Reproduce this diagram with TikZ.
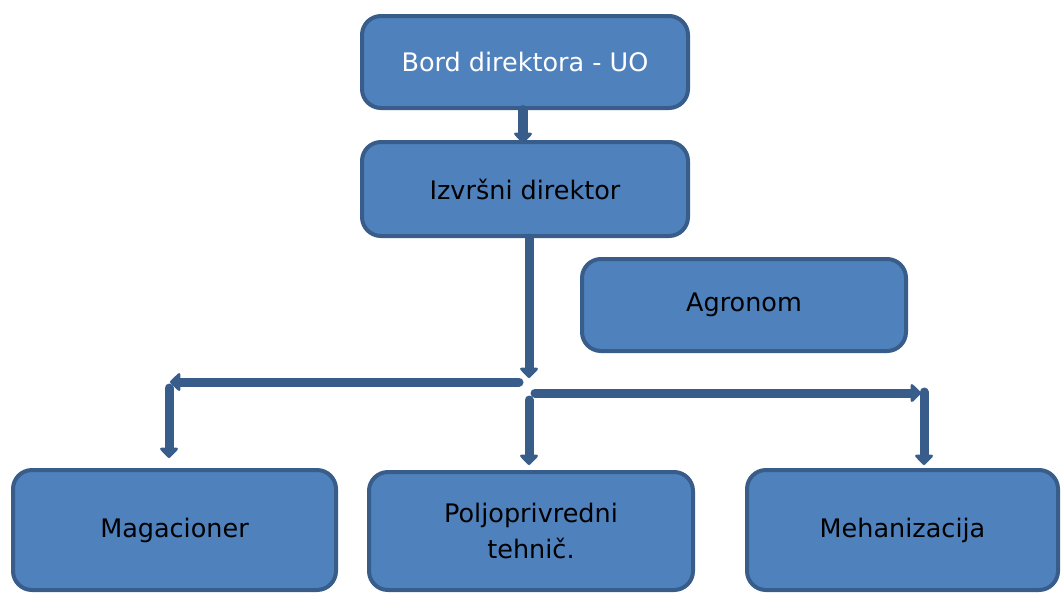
\documentclass[tikz,border=0pt]{standalone}
\usepackage{fontspec}
\setmainfont{DejaVu Sans}
\usepackage{tikz}
\usetikzlibrary{arrows.meta,positioning,calc}
\definecolor{orgfill}{RGB}{79, 129, 189}
\definecolor{orgedge}{RGB}{56, 93, 138}

\begin{document}
\begin{tikzpicture}[x=1pt, y=-1pt,
    orgbox/.style={draw=orgedge, fill=orgfill, line width=4pt, rounded corners=19pt, inner sep=0pt, font=\fontsize{25.5}{36}\selectfont, align=center},
    blockarrow/.style={draw=orgedge, line width=9pt, line cap=round, -{Triangle[length=11pt, width=21pt, round]}}]
    \useasboundingbox (0,0) rectangle (1062,592);

    \node [orgbox, minimum width=326pt, minimum height=92pt, text=white] (bord) at (525,62) {Bord direktora - UO};
    \node [orgbox, minimum width=326pt, minimum height=94pt] (izvrsni) at (525,189) {Izvršni direktor};
    \node [orgbox, minimum width=324pt, minimum height=92pt] (agronom) at (744,305) {Agronom};
    \node [orgbox, minimum width=323pt, minimum height=120pt] (magacioner) at (174.5,530) {Magacioner};
    \node [orgbox, minimum width=324pt, minimum height=118pt] (tehnicar) at (531,531) {Poljoprivredni\\tehnič.};
    \node [orgbox, minimum width=311pt, minimum height=120pt] (mehanizacija) at (902.5,530) {Mehanizacija};

    \coordinate (drop) at (529,378);
    \coordinate (westend) at (519,382);
    \coordinate (westtip) at (170,382);
    \coordinate (westdown) at (169,388);
    \coordinate (eastend) at (535,393);
    \coordinate (easttip) at (921,393);
    \coordinate (middown) at (529,400);
    \coordinate (eastdown) at (924,392);

    \draw [blockarrow, line width=10pt] ([xshift=-2pt]bord.south) -- ([xshift=-2pt, yshift=-3pt]izvrsni.north);
    \draw [blockarrow] ([xshift=4pt]izvrsni.south) -- (drop);
    \draw [blockarrow] (westend) -- (westtip);
    \draw [blockarrow] (westdown) -- ([yshift=10pt]magacioner.north -| westdown);
    \draw [blockarrow] (eastend) -- (easttip);
    \draw [blockarrow] (middown) -- ([yshift=5pt]tehnicar.north -| middown);
    \draw [blockarrow] (eastdown) -- ([yshift=3pt]mehanizacija.north -| eastdown);
\end{tikzpicture}
\end{document}
